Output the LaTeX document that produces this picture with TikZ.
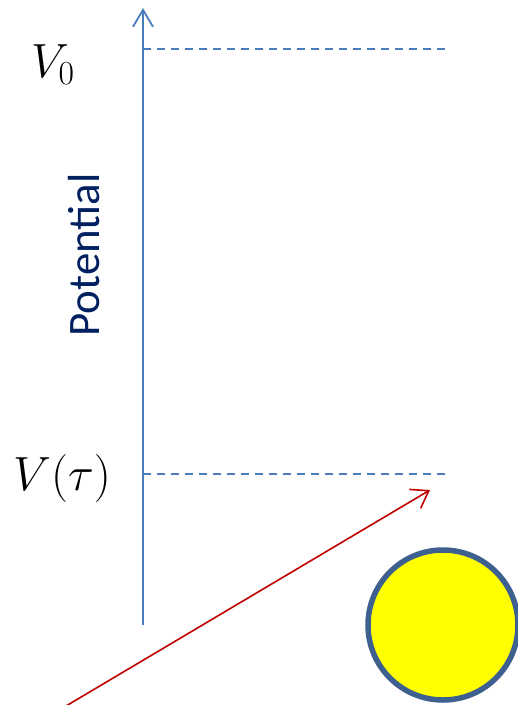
\RequirePackage{fix-cm}
\documentclass[tikz,border=0pt]{standalone}
\usepackage{fontspec}
\newfontfamily\calibri{Carlito}
\usetikzlibrary{arrows.meta}
\definecolor{axisblue}{RGB}{74,126,187}
\definecolor{potblue}{RGB}{0,32,96}
\definecolor{arrred}{RGB}{192,0,0}
\definecolor{ringblue}{RGB}{62,96,142}
\definecolor{sunyellow}{RGB}{255,255,0}
\tikzset{
  axisline/.style={draw=axisblue, line width=1.8pt, -{Straight Barb[length=17pt,width=20pt,line width=1.8pt]}},
  levelline/.style={draw=axisblue, line width=1.8pt, dash pattern=on 8pt off 6pt},
  redarrow/.style={draw=arrred, line width=1.6pt, -{Straight Barb[length=16pt,width=22pt,line width=1.6pt]}},
  mathlabel/.style={anchor=base west, inner sep=0pt, font=\fontsize{48}{50}\selectfont},
  axislabel/.style={rotate=90, anchor=base, inner sep=0pt, text=potblue, font=\calibri\fontsize{45}{47}\selectfont},
  sun/.style={circle, draw=ringblue, line width=5.5pt, fill=sunyellow, minimum size=150pt, inner sep=0pt}
}
\begin{document}
\begin{tikzpicture}[x=1pt,y=-1pt]
\useasboundingbox (0,0) rectangle (518,705);
\coordinate (axbot) at (143,625);
\coordinate (axtop) at (143,8);
\coordinate (v0a) at (143,49);
\coordinate (v0b) at (445,49);
\coordinate (vta) at (143,474);
\coordinate (vtb) at (445,474);
\coordinate (rs) at (66,706);
\coordinate (re) at (430,490);
\draw[levelline] (v0a) -- (v0b);
\draw[levelline] (vta) -- (vtb);
\draw[axisline] (axbot) -- (axtop);
\draw[redarrow] (rs) -- (re);
\node[sun] (ball) at (443,625) {};
\node[mathlabel] (lv0) at (31,77) {$V_0$};
\node[mathlabel] (lvt) at (13,490) {$V(\tau)$};
\node[axislabel] (lpot) at (99,255) {Potential};
\end{tikzpicture}
\end{document}
